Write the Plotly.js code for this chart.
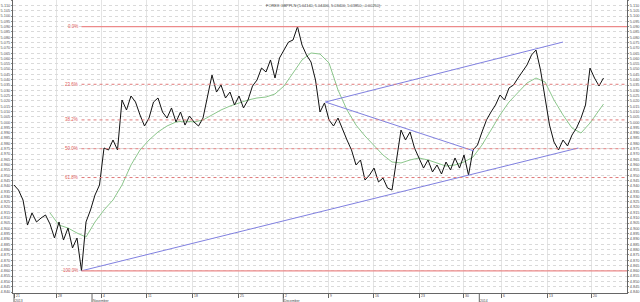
<!DOCTYPE html>
<html>
<head>
<meta charset="utf-8">
<script src="https://cdn.plot.ly/plotly-3.0.1.min.js"></script>
<style>html,body{margin:0;padding:0;background:#fff;}#chart{width:640px;height:302px;}</style>
</head>
<body>
<div id="chart"></div>
<script>
// ---- data ----
const chartTitle = "FOREX GBPPLN (5.04140, 5.04400, 5.03400, 5.03850, -0.00250)";
// close prices, one every half trading day, starting 21 Oct 2013
const closeStart = 0;
const closeStep = 0.5;
const closes = [
  4.9408, 4.9361, 4.9267, 4.9031, 4.9145, 4.9060, 4.9097, 4.9126, 4.9041, 4.8909,
  4.9060, 4.8890, 4.9003, 4.8815, 4.8909, 4.8600, 4.9060, 4.9173, 4.9314, 4.9408,
  4.9757, 4.9738, 4.9832, 4.9738, 5.0209, 5.0115, 5.0247, 5.0190, 5.0068, 4.9964,
  5.0039, 5.0190, 5.0228, 5.0096, 5.0039, 5.0134, 5.0002, 5.0096, 4.9973, 5.0058,
  5.0002, 4.9964, 5.0039, 5.0256, 5.0444, 5.0284, 5.0350, 5.0228, 5.0284, 5.0162,
  5.0247, 5.0134, 5.0209, 5.0341, 5.0397, 5.0510, 5.0473, 5.0586, 5.0416, 5.0605,
  5.0680, 5.0755, 5.0774, 5.0900, 5.0727, 5.0633, 5.0567, 5.0397, 5.0096, 5.0181,
  5.0021, 4.9964, 5.0039, 4.9926, 4.9832, 4.9738, 4.9597, 4.9644, 4.9455, 4.9502,
  4.9568, 4.9437, 4.9474, 4.9380, 4.9361, 4.9644, 4.9926, 4.9832, 4.9908, 4.9757,
  4.9663, 4.9568, 4.9644, 4.9531, 4.9597, 4.9512, 4.9625, 4.9550, 4.9663, 4.9568,
  4.9691, 4.9502, 4.9738, 4.9785, 4.9908, 5.0021, 5.0096, 5.0162, 5.0256, 5.0209,
  5.0322, 5.0350, 5.0416, 5.0473, 5.0539, 5.0633, 5.0680, 5.0492, 5.0209, 4.9973,
  4.9813, 4.9738, 4.9832, 4.9776, 4.9879, 4.9945, 5.0039, 5.0162, 5.0510, 5.0416,
  5.0341, 5.0416
];
// moving average (green)
const maDays = [4,5,6,7,8,9,10,11,12,13,14,15,16,17,18,19,20,21,22,23,24,25,26,27,28,29,30,31,32,33,34,35,36,37,38,39,40,41,42,43,44,45,46,47,48,49,50,51,52,53,54,55,56,57,58,59,60,61,62,63,64,65,65.5];
const maValues = [
  4.9145, 4.9031, 4.9003, 4.8956, 4.8918, 4.9060, 4.9173, 4.9267, 4.9408, 4.9597,
  4.9738, 4.9832, 4.9908, 4.9964, 5.0002, 5.0011, 5.0002, 5.0021, 5.0068, 5.0115,
  5.0152, 5.0181, 5.0209, 5.0228, 5.0237, 5.0266, 5.0341, 5.0463, 5.0586, 5.0652,
  5.0642, 5.0558, 5.0303, 5.0115, 4.9973, 4.9870, 4.9776, 4.9691, 4.9625, 4.9616,
  4.9644, 4.9663, 4.9644, 4.9616, 4.9587, 4.9597, 4.9625, 4.9672, 4.9785, 4.9926,
  5.0068, 5.0190, 5.0284, 5.0369, 5.0416, 5.0379, 5.0209, 5.0068, 4.9945, 4.9898,
  4.9992, 5.0115, 5.0171
];
// Fibonacci retracement
const fibHigh = 5.0900, fibLow = 4.8600, fibStartDay = 7.5;
const fibRatios = [0, 0.236, 0.382, 0.5, 0.618, 1];
const fibLabels = ["0.0%", "23.6%", "38.2%", "50.0%", "61.8%", "100.0%"];
// trend lines [day, price]
const lowerTrendDays = [7.5, 62.7], lowerTrendPrices = [4.8600, 4.9757];
const upperTrendDays = [34.6, 61.0], upperTrendPrices = [5.0190, 5.0755];
const downTrendDays = [34.6, 51.1], downTrendPrices = [5.0190, 4.9729];
// x axis ticks (trading-day positions)
const weekTickDays = [0, 4.67, 9.74, 14.74, 19.86, 24.92, 29.92, 34.92, 39.92, 45.0, 49.92, 54.19, 59.3, 64.19];
const weekTickLabels = ["21", "28", "4", "11", "18", "25", "2", "9", "16", "23", "30", "6", "13", "20"];
const monthTickDays = [0, 8.67, 29.92, 51.7];
const monthTickLabels = ["2013", "November", "December", "2014"];

// ---- build ----
const closeX = closes.map((_, i) => closeStart + i * closeStep);
const xMin = -0.111, xMax = 68.111;
const yMin = 4.8391, yMax = 5.1151;
const fs = 3.9;
const fam = 'Liberation Sans, Arial';
const traces = [
  {x: maDays, y: maValues, mode: 'lines', line: {color: '#8cc78c', width: 1}, hoverinfo: 'skip'},
  {x: closeX, y: closes, mode: 'lines', line: {color: '#111111', width: 1}, hoverinfo: 'skip'},
  {x: lowerTrendDays, y: lowerTrendPrices, mode: 'lines', line: {color: '#8080e0', width: 1}},
  {x: upperTrendDays, y: upperTrendPrices, mode: 'lines', line: {color: '#8080e0', width: 1}},
  {x: downTrendDays, y: downTrendPrices, mode: 'lines', line: {color: '#8080e0', width: 1}},
  {x: [xMin], y: [yMin], yaxis: 'y2', mode: 'markers', marker: {opacity: 0}, hoverinfo: 'skip'}
];
const shapes = [];
const annotations = [];
fibRatios.forEach((r, k) => {
  const lvl = fibHigh - r * (fibHigh - fibLow);
  const solid = (r === 0 || r === 1);
  shapes.push({type: 'line', xref: 'x', yref: 'y', x0: fibStartDay, x1: xMax, y0: lvl, y1: lvl,
    line: {color: solid ? '#ec8a8a' : '#e07a7a', width: solid ? 1.3 : 1, dash: solid ? 'solid' : 'dot'}});
  annotations.push({x: fibStartDay - 0.15, y: lvl, xref: 'x', yref: 'y', text: fibLabels[k], showarrow: false,
    xanchor: 'right', yanchor: 'middle', font: {size: fs + 0.6, color: '#e05a5a', family: fam}});
});
weekTickDays.forEach((d, k) => {
  annotations.push({x: d, y: 0, xref: 'x', yref: 'paper', text: weekTickLabels[k], showarrow: false, borderpad: 0,
    xanchor: 'left', yanchor: 'top', xshift: 0.5, yshift: 0, font: {size: 3.4, color: '#444', family: fam}});
});
monthTickDays.forEach((d, k) => {
  annotations.push({x: d, y: 0, xref: 'x', yref: 'paper', text: monthTickLabels[k], showarrow: false, borderpad: 0,
    xanchor: 'left', yanchor: 'top', yshift: -4.5, font: {size: 3.4, color: '#444', family: fam}});
  shapes.push({type: 'line', xref: 'x', yref: 'paper', x0: d, x1: d, y0: 0, y1: -9 / 293, line: {color: '#666', width: 1}});
});
annotations.push({x: 0.506, y: 1, xref: 'paper', yref: 'paper', text: chartTitle, showarrow: false,
  xanchor: 'center', yanchor: 'top', yshift: -1, font: {size: fs, color: '#444', family: fam}});

const yTickFont = {size: fs, color: '#555', family: fam};
const layout = {
  width: 640, height: 302,
  margin: {l: 13, r: 13, t: 0, b: 9, pad: 0},
  paper_bgcolor: '#ffffff', plot_bgcolor: '#ffffff',
  showlegend: false,
  xaxis: {range: [xMin, xMax], tickmode: 'array', tickvals: weekTickDays, showticklabels: false,
    ticks: 'outside', ticklen: 4, tickcolor: '#666', showgrid: true, gridcolor: '#e4e4e4', gridwidth: 1,
    showline: true, linecolor: '#666', linewidth: 1, zeroline: false, fixedrange: true},
  yaxis: {side: 'right', range: [yMin, yMax], tick0: 4.84, dtick: 0.005, tickformat: '.3f', tickfont: yTickFont,
    ticks: 'outside', ticklen: 1, tickcolor: '#888', ticklabelstandoff: 0, showline: true, linecolor: '#666', linewidth: 1,
    showgrid: true, gridcolor: '#dadada', griddash: 'dot', gridwidth: 1, zeroline: false, automargin: false},
  yaxis2: {overlaying: 'y', side: 'left', range: [yMin, yMax], tick0: 4.84, dtick: 0.005, tickformat: '.3f',
    tickfont: yTickFont, ticks: 'outside', ticklen: 1, tickcolor: '#888', ticklabelstandoff: 0, showline: true, linecolor: '#666',
    linewidth: 1, showgrid: false, zeroline: false, automargin: false},
  shapes: shapes,
  annotations: annotations
};
Plotly.newPlot('chart', traces, layout, {staticPlot: true, displayModeBar: false});
</script>
</body>
</html>
